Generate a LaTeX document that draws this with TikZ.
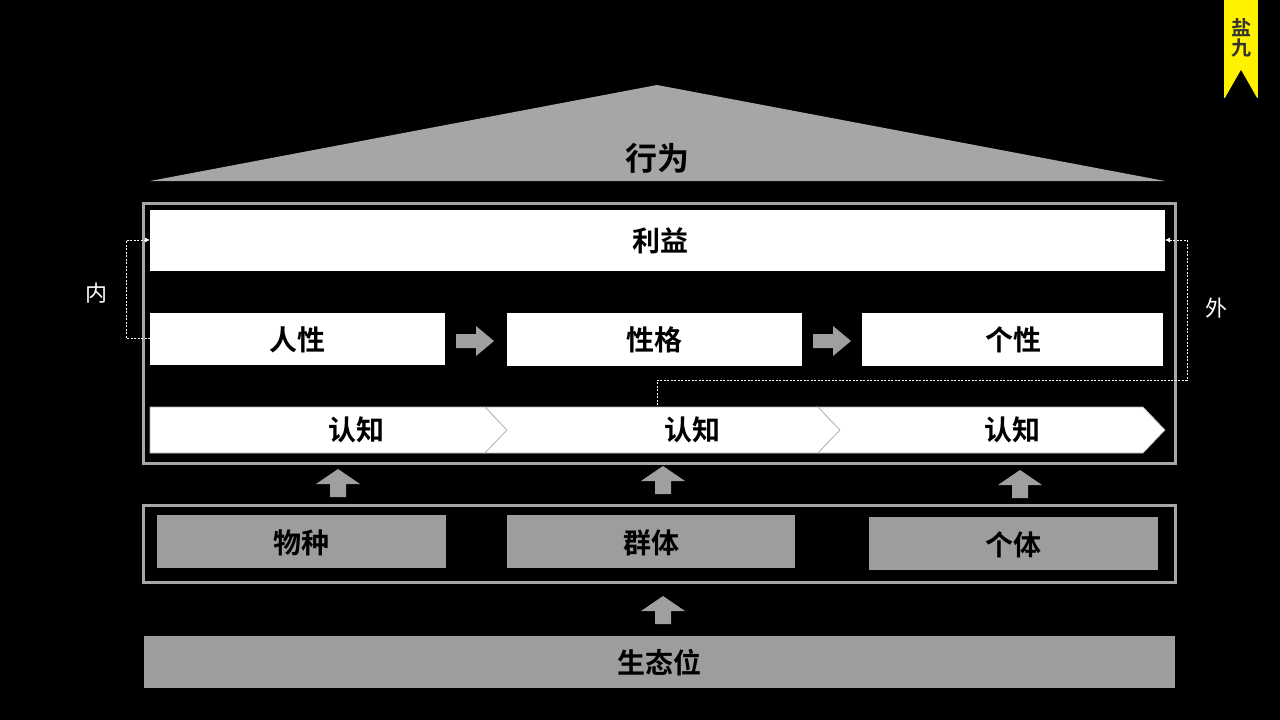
\documentclass[tikz,border=0pt]{standalone}
\usepackage{fontspec}
\usetikzlibrary{arrows.meta}
\newfontfamily\cjk{Noto Sans CJK SC}
\newfontfamily\cjkb{Noto Sans CJK SC Bold}
\begin{document}
\begin{tikzpicture}[x=1pt,y=-1pt,
 wbox/.style={fill=white},
 gbox/.style={fill=gray!70!white!95!black},
 lab/.style={font=\cjkb\fontsize{28}{30}\selectfont, text=black},
 chev/.style={fill=white,draw=gray!60,line width=0.7pt},
 garrow/.style={fill=gray!75,draw=none},
 dotl/.style={draw=white,line width=0.8pt,dash pattern=on 2pt off 1.5pt}]
\fill[black] (0,0) rectangle (1280,720);
\useasboundingbox (0,0) rectangle (1280,720);
% roof
\fill[gray!70] (150,181) -- (657,85) -- (1165,181) -- cycle;
\node[font=\cjkb\fontsize{32}{34}\selectfont] (roof) at (657,158) {行为};
% frames
\draw[gray!70,line width=3pt] (143,203) rectangle (1175,463);
\draw[gray!70,line width=3pt] (143,505) rectangle (1175,582);
% boxes
\fill[wbox] (150,210) rectangle (1165,271);
\node[lab] (liyi) at (660,241) {利益};
\fill[wbox] (150,313) rectangle (445,365);
\node[lab] (rx) at (297,340) {人性};
\fill[wbox] (507,313) rectangle (802,366);
\node[lab] (xg) at (654,340) {性格};
\fill[wbox] (862,313) rectangle (1163,366);
\node[lab] (gx) at (1013,340) {个性};
% chevrons
\draw[chev] (150,407) -- (485,407) -- (507,430) -- (485,453) -- (150,453) -- cycle;
\draw[chev] (485,407) -- (818,407) -- (840,430) -- (818,453) -- (485,453) -- (507,430) -- cycle;
\draw[chev] (818,407) -- (1143,407) -- (1165,430) -- (1143,453) -- (818,453) -- (840,430) -- cycle;
\node[lab] (rz1) at (356,430) {认知};
\node[lab] (rz2) at (692,430) {认知};
\node[lab] (rz3) at (1012,430) {认知};
% gray boxes
\fill[gbox] (157,515) rectangle (446,568);
\node[lab] (wz) at (301,543) {物种};
\fill[gbox] (507,515) rectangle (795,568);
\node[lab] (qt) at (651,543) {群体};
\fill[gbox] (869,517) rectangle (1158,570);
\node[lab] (gt) at (1013,545) {个体};
\fill[gbox] (144,636) rectangle (1175,688);
\node[lab] (stw) at (659,663) {生态位};
% right arrows
\foreach \x/\y in {456/341,813/341}{
 \fill[garrow] (\x,\y-7) -- (\x+20,\y-7) -- (\x+20,\y-15) -- (\x+38,\y) -- (\x+20,\y+15) -- (\x+20,\y+7) -- (\x,\y+7) -- cycle;}
% up arrows
\foreach \x/\y in {338/497,663/494,1020/498,663/624}{
 \fill[garrow] (\x-8,\y) -- (\x-8,\y-13) -- (\x-22,\y-13) -- (\x,\y-28) -- (\x+22,\y-13) -- (\x+8,\y-13) -- (\x+8,\y) -- cycle;}
% dotted connectors
\coordinate (l0) at (150,338);
\coordinate (l1) at (126,338);
\coordinate (l2) at (126,240);
\coordinate (l3) at (150,240);
\draw[dotl,-{Latex[length=5pt,width=5pt]}] (l0) -- (l1) -- (l2) -- (l3);
\coordinate (r00) at (657,405);
\coordinate (r0) at (657,380);
\coordinate (r1) at (1187,380);
\coordinate (r2) at (1187,240);
\coordinate (r3) at (1165,240);
\draw[dotl,-{Latex[length=5pt,width=5pt]}] (r00) -- (r0) -- (r1) -- (r2) -- (r3);
\node[text=white,font=\cjk\fontsize{22}{24}\selectfont] (nei) at (96,293) {内};
\node[text=white,font=\cjk\fontsize{22}{24}\selectfont] (wai) at (1216,308) {外};
% logo
\fill[yellow] (1224,0) rectangle (1258,98);
\node[font=\cjkb\fontsize{20}{22}\selectfont,text=black!80,align=center,inner sep=0] (logo) at (1241,38) {盐\\[-2pt]九};
\fill[black] (1225,98) -- (1241,70) -- (1257,98) -- cycle;
\end{tikzpicture}
\end{document}
